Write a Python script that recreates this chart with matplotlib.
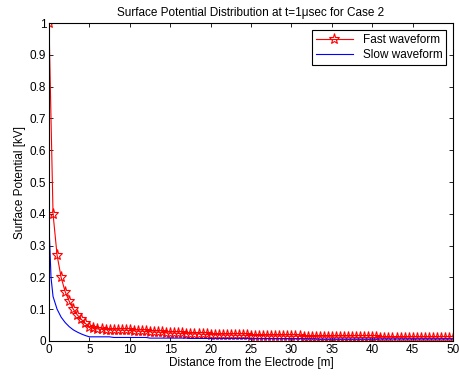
import matplotlib
matplotlib.use("Agg")
import matplotlib.pyplot as plt

plt.rcParams['font.family'] = ['Liberation Sans', 'DejaVu Sans']

# Fast waveform sampled every 0.5 m
fast_x = [i * 0.5 for i in range(101)]
fast_y = [1.0, 0.40, 0.27, 0.20, 0.155, 0.125, 0.100, 0.082, 0.068, 0.055,
          0.045, 0.040, 0.038, 0.037, 0.036, 0.036, 0.035, 0.035, 0.034, 0.034,
          0.033, 0.032, 0.031, 0.031, 0.030, 0.029, 0.028, 0.028, 0.027, 0.026,
          0.025, 0.025, 0.024, 0.024, 0.023, 0.023, 0.022, 0.022, 0.021, 0.021,
          0.020, 0.020, 0.020, 0.019, 0.019, 0.019, 0.018, 0.018, 0.018, 0.018,
          0.017, 0.017, 0.017, 0.017, 0.016, 0.016, 0.016, 0.016, 0.016, 0.015,
          0.015, 0.015, 0.015, 0.014, 0.014, 0.014, 0.014, 0.013, 0.013, 0.013,
          0.013, 0.012, 0.012, 0.012, 0.012, 0.012, 0.011, 0.011, 0.011, 0.011,
          0.011, 0.011, 0.010, 0.010, 0.010, 0.010, 0.010, 0.010, 0.010, 0.009,
          0.009, 0.009, 0.009, 0.009, 0.009, 0.009, 0.009, 0.008, 0.008, 0.008,
          0.008]

# Slow waveform
slow_x = [0, 0.1, 0.25, 0.5, 1.0, 1.5, 2.0, 2.5, 3.0, 3.5, 4.0, 4.5, 5.0,
          7.5, 8.0, 12.0, 12.5, 17.0, 17.5, 25.0, 33.0, 33.5, 50.0]
slow_y = [0.36, 0.30, 0.20, 0.14, 0.10, 0.075, 0.058, 0.045, 0.035, 0.028,
          0.022, 0.017, 0.013, 0.013, 0.011, 0.011, 0.009, 0.009, 0.008, 0.008,
          0.007, 0.006, 0.006]

x_ticks = list(range(0, 51, 5))
y_ticks = [i / 10 for i in range(11)]
y_labels = ["0", "0.1", "0.2", "0.3", "0.4", "0.5", "0.6", "0.7", "0.8", "0.9", "1"]

fig = plt.figure(figsize=(4.6, 3.78), dpi=100)
ax = fig.add_axes([0.1065, 0.098, 0.8785, 0.841])

ax.plot(fast_x, fast_y, color='red', linewidth=0.8, marker='*', markersize=8,
        markerfacecolor='none', markeredgecolor='red', markeredgewidth=0.8,
        label='Fast waveform')
ax.plot(slow_x, slow_y, color='blue', linewidth=0.8, label='Slow waveform')

ax.set_xlim(0, 50)
ax.set_ylim(0, 1)
ax.set_xticks(x_ticks)
ax.set_yticks(y_ticks)
ax.set_yticklabels(y_labels)
ax.tick_params(direction='in', top=True, right=True, labelsize=8.5, length=3, width=0.6, pad=2)
for s in ax.spines.values():
    s.set_linewidth(0.8)

ax.set_xlabel("Distance from the Electrode [m]", fontsize=8.5, labelpad=1)
ax.set_ylabel("Surface Potential [kV]", fontsize=8.5, labelpad=3)
ax.set_title("Surface Potential Distribution at t=1\u03bcsec for Case 2", fontsize=8.5, pad=5)

leg = ax.legend(loc='upper right', fontsize=8.5, fancybox=False, framealpha=1,
                edgecolor='black', borderaxespad=0.6, handlelength=3.2,
                borderpad=0.3, labelspacing=0.3)
leg.get_frame().set_linewidth(0.8)

fig.savefig("out.png", dpi=100)
